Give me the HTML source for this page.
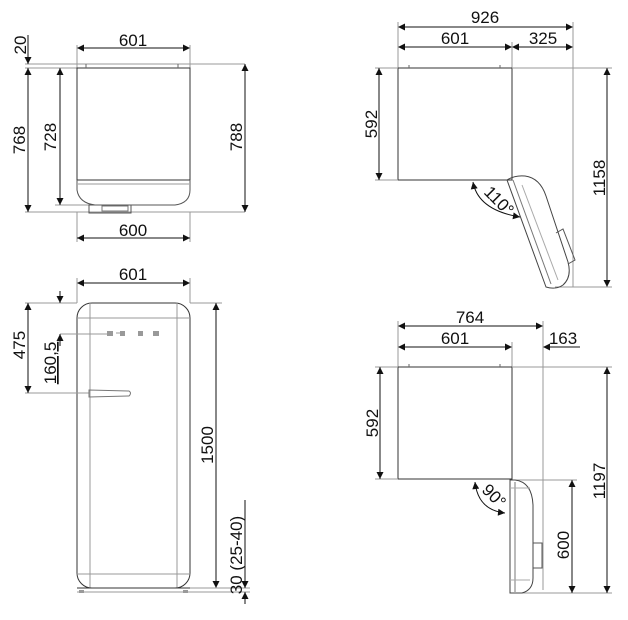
<!DOCTYPE html>
<html><head><meta charset="utf-8"><style>
html,body{margin:0;padding:0;background:#fff}
svg{display:block}
text{font-family:"Liberation Sans",Arial,sans-serif;font-size:17px;fill:#111}
</style></head><body>
<svg width="628" height="620" viewBox="0 0 628 620" xmlns="http://www.w3.org/2000/svg">
<defs>
<marker id="a" viewBox="0 0 10 10" refX="10" refY="5" markerWidth="9" markerHeight="7" orient="auto-start-reverse" markerUnits="userSpaceOnUse"><path d="M0,0L10,5L0,10z" fill="#111"/></marker>
</defs>
<g stroke="#111" stroke-width="1" fill="none">
<line x1="77" y1="48" x2="190" y2="48" marker-start="url(#a)" marker-end="url(#a)"/>
<line x1="77" y1="45" x2="77" y2="68" stroke="#999"/><line x1="190" y1="45" x2="190" y2="68" stroke="#999"/>
<line x1="25" y1="64" x2="245" y2="64" stroke="#999"/>
<line x1="25" y1="68" x2="77" y2="68" stroke="#999"/>
<line x1="25" y1="212" x2="245" y2="212" stroke="#999"/>
<line x1="55" y1="205" x2="95" y2="205" stroke="#999"/>
<rect x="77" y="68" width="113" height="112" stroke="#333"/>
<line x1="86" y1="64" x2="86" y2="68" stroke="#666"/><line x1="178" y1="64" x2="178" y2="68" stroke="#666"/>
<path d="M77,180 L77,190 Q79,203 95,205 L175,205 Q190,203 190,190 L190,180" stroke="#555"/>
<line x1="78" y1="184" x2="189" y2="184" stroke="#999"/>
<rect x="89" y="205" width="42" height="8" stroke="#555"/>
<rect x="102" y="206" width="26" height="5" stroke="#777"/>
<line x1="28" y1="35" x2="28" y2="64" marker-end="url(#a)"/>
<line x1="28" y1="68" x2="28" y2="212" marker-start="url(#a)" marker-end="url(#a)"/>
<line x1="60" y1="68" x2="60" y2="205" marker-start="url(#a)" marker-end="url(#a)"/>
<line x1="245" y1="64" x2="245" y2="212" marker-start="url(#a)" marker-end="url(#a)"/>
<line x1="77" y1="212" x2="77" y2="242" stroke="#999"/><line x1="190" y1="212" x2="190" y2="242" stroke="#999"/>
<line x1="77" y1="238" x2="190" y2="238" marker-start="url(#a)" marker-end="url(#a)"/>

<line x1="398" y1="27" x2="573" y2="27" marker-start="url(#a)" marker-end="url(#a)"/>
<line x1="398" y1="47" x2="512" y2="47" marker-start="url(#a)" marker-end="url(#a)"/>
<line x1="512" y1="47" x2="573" y2="47" marker-start="url(#a)" marker-end="url(#a)"/>
<line x1="398" y1="22" x2="398" y2="68" stroke="#999"/>
<line x1="512" y1="42" x2="512" y2="68" stroke="#999"/>
<line x1="573" y1="22" x2="573" y2="287" stroke="#999"/>
<rect x="398" y="68" width="114" height="112" stroke="#333"/>
<line x1="409" y1="65" x2="409" y2="68" stroke="#666"/><line x1="500" y1="65" x2="500" y2="68" stroke="#666"/>
<line x1="375" y1="68" x2="398" y2="68" stroke="#999"/><line x1="375" y1="180" x2="398" y2="180" stroke="#999"/>
<line x1="512" y1="68" x2="612" y2="68" stroke="#999"/>
<line x1="379" y1="68" x2="379" y2="180" marker-start="url(#a)" marker-end="url(#a)"/>
<line x1="607" y1="68" x2="607" y2="287" marker-start="url(#a)" marker-end="url(#a)"/>
<line x1="555" y1="287" x2="612" y2="287" stroke="#999"/>
<path d="M507,180 L546,287 Q556,290 563,285 Q572,277 568,262 L546,196 Q540,178 525,176 Q515,175 507,180 Z" stroke="#444"/>
<line x1="513" y1="180" x2="551" y2="284" stroke="#777"/>
<line x1="522" y1="185" x2="558" y2="280" stroke="#aaa"/>
<path d="M556,233 L563,229 L575,260 L568,264" stroke="#555"/>
<path d="M473,182 Q478,210 520,217" marker-start="url(#a)" marker-end="url(#a)"/>

<line x1="77" y1="283" x2="190" y2="283" marker-start="url(#a)" marker-end="url(#a)"/>
<line x1="77" y1="278" x2="77" y2="303" stroke="#999"/><line x1="190" y1="278" x2="190" y2="303" stroke="#999"/>
<rect x="77" y="303" width="113" height="285" rx="15" stroke="#333"/>
<line x1="90" y1="303" x2="90" y2="588" stroke="#999"/><line x1="177" y1="303" x2="177" y2="588" stroke="#999"/>
<line x1="77" y1="318" x2="190" y2="318" stroke="#999"/><line x1="77" y1="574" x2="190" y2="574" stroke="#999"/>
<line x1="77" y1="588" x2="190" y2="588" stroke="#333"/>
<line x1="25" y1="303" x2="77" y2="303" stroke="#999"/>
<line x1="190" y1="303" x2="222" y2="303" stroke="#999"/>
<line x1="60" y1="334" x2="108" y2="334" stroke="#999"/>
<line x1="25" y1="393" x2="89" y2="393" stroke="#999"/>
<line x1="28" y1="303" x2="28" y2="393" marker-start="url(#a)" marker-end="url(#a)"/>
<line x1="60" y1="291" x2="60" y2="303" marker-end="url(#a)"/>
<line x1="60" y1="346" x2="60" y2="334" marker-end="url(#a)"/>
<line x1="216" y1="303" x2="216" y2="588" marker-start="url(#a)" marker-end="url(#a)"/>
<line x1="190" y1="588" x2="250" y2="588" stroke="#999"/>
<line x1="77" y1="592" x2="250" y2="592" stroke="#999"/>
<line x1="245" y1="500" x2="245" y2="588" marker-end="url(#a)"/>
<line x1="245" y1="604" x2="245" y2="592" marker-end="url(#a)"/>
<path d="M89,390 L129,391 Q132,393 129,396 L89,397 Z" stroke="#777"/>
<line x1="116" y1="333" x2="124" y2="333" stroke="#999"/>
</g>
<g fill="#999">
<rect x="107" y="331" width="6" height="5"/><rect x="120" y="331" width="5" height="5"/><rect x="138" y="331" width="5" height="5"/><rect x="153" y="331" width="6" height="5"/>
<rect x="79" y="590" width="5" height="3"/><rect x="183" y="590" width="5" height="3"/>
</g>
<g stroke="#111" stroke-width="1" fill="none">
<line x1="398" y1="326" x2="543" y2="326" marker-start="url(#a)" marker-end="url(#a)"/>
<line x1="398" y1="347" x2="512" y2="347" marker-start="url(#a)" marker-end="url(#a)"/>
<line x1="580" y1="347" x2="543" y2="347" marker-end="url(#a)"/>
<line x1="398" y1="321" x2="398" y2="367" stroke="#999"/>
<line x1="512" y1="342" x2="512" y2="367" stroke="#999"/>
<line x1="543" y1="321" x2="543" y2="590" stroke="#999"/>
<rect x="398" y="367" width="114" height="112" stroke="#333"/>
<line x1="409" y1="364" x2="409" y2="367" stroke="#666"/><line x1="500" y1="364" x2="500" y2="367" stroke="#666"/>
<line x1="375" y1="367" x2="398" y2="367" stroke="#999"/><line x1="375" y1="479" x2="398" y2="479" stroke="#999"/>
<line x1="512" y1="367" x2="612" y2="367" stroke="#999"/>
<line x1="512" y1="480" x2="577" y2="480" stroke="#999"/>
<line x1="510" y1="593" x2="612" y2="593" stroke="#999"/>
<line x1="380" y1="367" x2="380" y2="479" marker-start="url(#a)" marker-end="url(#a)"/>
<line x1="607" y1="367" x2="607" y2="593" marker-start="url(#a)" marker-end="url(#a)"/>
<line x1="572" y1="480" x2="572" y2="593" marker-start="url(#a)" marker-end="url(#a)"/>
<path d="M510,480 L510,593 L522,593 Q533,590 533,578 L533,505 Q532,482 515,480 Z" stroke="#444"/>
<line x1="515" y1="482" x2="515" y2="592" stroke="#777"/>
<line x1="510" y1="488" x2="530" y2="488" stroke="#aaa"/>
<line x1="510" y1="580" x2="530" y2="580" stroke="#aaa"/>
<path d="M533,543 L542,543 L542,568 L533,568" stroke="#555"/>
<path d="M475,482 Q478,510 505,513" marker-start="url(#a)" marker-end="url(#a)"/>
</g>
<text x="133" y="46" text-anchor="middle">601</text>
<text x="133" y="236" text-anchor="middle">600</text>
<text transform="translate(26,45) rotate(-90)" text-anchor="middle">20</text>
<text transform="translate(25,140) rotate(-90)" text-anchor="middle">768</text>
<text transform="translate(56,137) rotate(-90)" text-anchor="middle">728</text>
<text transform="translate(242,137) rotate(-90)" text-anchor="middle">788</text>

<text x="485" y="23" text-anchor="middle">926</text>
<text x="455" y="44" text-anchor="middle">601</text>
<text x="543" y="44" text-anchor="middle">325</text>
<text transform="translate(377,124) rotate(-90)" text-anchor="middle">592</text>
<text transform="translate(605,178) rotate(-90)" text-anchor="middle">1158</text>
<text transform="translate(495,205) rotate(45)" text-anchor="middle">110°</text>

<text x="133" y="280" text-anchor="middle">601</text>
<text transform="translate(25,345) rotate(-90)" text-anchor="middle">475</text>
<text transform="translate(56,363) rotate(-90)" text-anchor="middle" text-decoration="underline">160,5</text>
<text transform="translate(213,445) rotate(-90)" text-anchor="middle">1500</text>
<text transform="translate(242,555) rotate(-90)" text-anchor="middle">30 (25-40)</text>

<text x="470" y="323" text-anchor="middle">764</text>
<text x="455" y="344" text-anchor="middle">601</text>
<text x="563" y="344" text-anchor="middle">163</text>
<text transform="translate(378,423) rotate(-90)" text-anchor="middle">592</text>
<text transform="translate(605,481) rotate(-90)" text-anchor="middle">1197</text>
<text transform="translate(569,545) rotate(-90)" text-anchor="middle">600</text>
<text transform="translate(490,500) rotate(45)" text-anchor="middle">90°</text>
</svg>
</body></html>
